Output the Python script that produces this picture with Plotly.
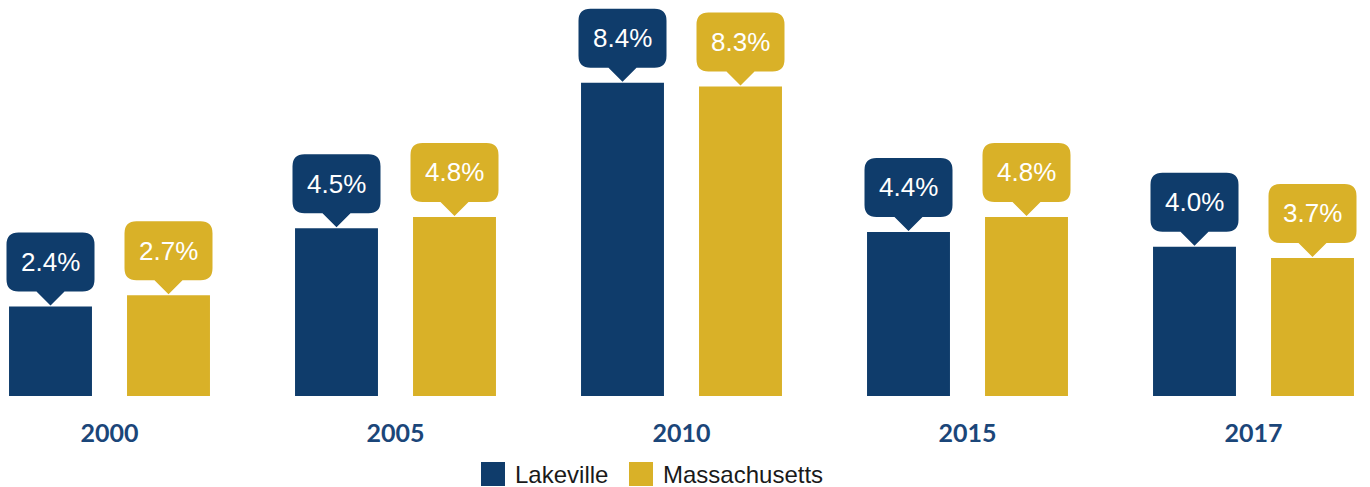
import plotly.graph_objects as go

# ---- data ----
years = ["2000", "2005", "2010", "2015", "2017"]
lakeville = [2.4, 4.5, 8.4, 4.4, 4.0]
massachusetts = [2.7, 4.8, 8.3, 4.8, 3.7]
series_names = ["Lakeville", "Massachusetts"]
series_values = [lakeville, massachusetts]

# ---- style ----
colors = ["#0F3C6B", "#D9B128"]
W, H = 1370, 487
PLOT_BOTTOM = 396  # px from top
bar_w = 0.29
centers = [-0.2063, 0.2063]

xs = list(range(len(years)))

fig = go.Figure()
for name, vals, col, c in zip(series_names, series_values, colors, centers):
    fig.add_trace(go.Bar(
        x=xs, y=vals, name=name, width=bar_w, offset=c - bar_w / 2,
        marker=dict(color=col, line=dict(width=0)),
        showlegend=False, hoverinfo="skip",
    ))

# callout bubble path (pixel offsets relative to bar top centre, y up)
r = 12
hw, yb, yt = 44, 15, 74
pw = 14
bubble = (
    f"M 0,1 L {pw},{yb} L {hw - r},{yb} Q {hw},{yb} {hw},{yb + r} "
    f"L {hw},{yt - r} Q {hw},{yt} {hw - r},{yt} L {-hw + r},{yt} "
    f"Q {-hw},{yt} {-hw},{yt - r} L {-hw},{yb + r} Q {-hw},{yb} {-hw + r},{yb} "
    f"L {-pw},{yb} Z"
)

shapes = []
annotations = []
for vals, col, c in zip(series_values, colors, centers):
    for xi, v in zip(xs, vals):
        shapes.append(dict(
            type="path", xref="x", yref="y", xsizemode="pixel", ysizemode="pixel",
            xanchor=xi + c, yanchor=v, path=bubble, fillcolor=col,
            line=dict(width=0), layer="above",
        ))
        annotations.append(dict(
            x=xi + c, y=v, xref="x", yref="y", text=f"{v:.1f}%", showarrow=False,
            yshift=(yb + yt) / 2, xanchor="center", yanchor="middle",
            font=dict(family="Liberation Sans", size=26, color="white"),
        ))

# custom legend
def py(p):
    return (PLOT_BOTTOM - p) / PLOT_BOTTOM

legend_items = [(481, 513), (629, 661)]
for (sx, tx), name, col in zip(legend_items, series_names, colors):
    shapes.append(dict(
        type="rect", xref="paper", yref="paper",
        x0=sx / W, x1=(sx + 24) / W, y0=py(486), y1=py(462),
        fillcolor=col, line=dict(width=0),
    ))
    annotations.append(dict(
        x=tx / W, y=py(475), xref="paper", yref="paper", text=name,
        showarrow=False, xanchor="left", yanchor="middle",
        font=dict(family="Liberation Sans", size=24, color="#1a1a1a"),
    ))

x0 = -109.5 / 286
fig.update_layout(
    width=W, height=H,
    margin=dict(l=0, r=0, t=0, b=H - PLOT_BOTTOM),
    barmode="overlay",
    plot_bgcolor="white", paper_bgcolor="white",
    shapes=shapes, annotations=annotations,
    xaxis=dict(
        range=[x0, x0 + W / 286], tickvals=xs, ticktext=years,
        showgrid=False, zeroline=False, showline=False, ticks="",
        ticklabelstandoff=20,
        tickfont=dict(family="Lato", size=25, color="#1B4679", weight="bold"),
        fixedrange=True,
    ),
    yaxis=dict(range=[0, PLOT_BOTTOM / 37.3], visible=False, fixedrange=True),
)

fig.write_html(
    "out.html",
    config={"displayModeBar": False},
    post_script="document.body.style.margin='0';document.body.style.overflow='hidden';",
)
